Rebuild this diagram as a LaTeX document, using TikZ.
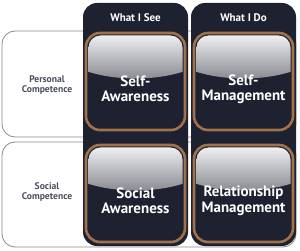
\documentclass[tikz,border=0pt]{standalone}
\usepackage{fontspec}
\setmainfont{PT Sans}
\definecolor{navy}{HTML}{1E2230}
\definecolor{brownring}{HTML}{A0714B}
\definecolor{rowline}{HTML}{8A8A8A}
\definecolor{labeltext}{HTML}{4B4F5F}
\definecolor{glosstop}{HTML}{F4F4F6}
\definecolor{glossbot}{HTML}{84868D}
\tikzset{
  rowbox/.style={draw=rowline, line width=0.8pt, fill=white, rounded corners=13pt},
  column/.style={fill=navy, rounded corners=14pt},
  header/.style={text=white, font=\bfseries\fontsize{11}{12}\selectfont, inner sep=0pt},
  rowlabel/.style={text=labeltext, font=\bfseries\fontsize{9.6}{10}\selectfont, align=center, inner sep=0pt},
  boxtext/.style={text=white, font=\bfseries\fontsize{15}{15.5}\selectfont, align=center, inner sep=0pt},
}
% #1 = left x, #2 = top y, #3 = name, #4 = text
\newcommand{\glossbox}[4]{%
  \fill[navy, rounded corners=14pt] (#1,#2) rectangle ++(99,97);
  \begin{scope}
    \clip[rounded corners=12pt] (#1+2.5,#2+2.5) rectangle ++(94,92);
    \shade[top color=glosstop, bottom color=glossbot]
      (#1,#2) -- ++(99,0) -- ++(0,38)
      .. controls (#1+70,#2+48) and (#1+29,#2+48) .. (#1,#2+38) -- cycle;
  \end{scope}
  \draw[brownring, line width=2.6pt, rounded corners=14pt] (#1,#2) rectangle ++(99,97);
  \node[boxtext] (#3) at (#1+49.5,#2+56) {#4};
}
\begin{document}
\begin{tikzpicture}[x=1pt,y=-1pt]
\useasboundingbox (0,0) rectangle (300,251);
% row boxes
\draw[rowbox] (2,31) rectangle (296,137);
\draw[rowbox] (2,142) rectangle (296,247);
\node[rowlabel] (personal) at (47,85) {Personal\\Competence};
\node[rowlabel] (social) at (47,192.5) {Social\\Competence};
% columns
\fill[column] (83,3) rectangle (188,246);
\fill[column] (191,3) rectangle (296,246);
\node[header] (see) at (135.5,18) {What I See};
\node[header] (do) at (243.5,18) {What I Do};
% boxes
\glossbox{86}{33}{sa}{Self-\\Awareness}
\glossbox{194}{33}{sm}{Self-\\Management}
\glossbox{86}{145}{soa}{Social\\Awareness}
\glossbox{194}{145}{rm}{Relationship\\Management}
\end{tikzpicture}
\end{document}
